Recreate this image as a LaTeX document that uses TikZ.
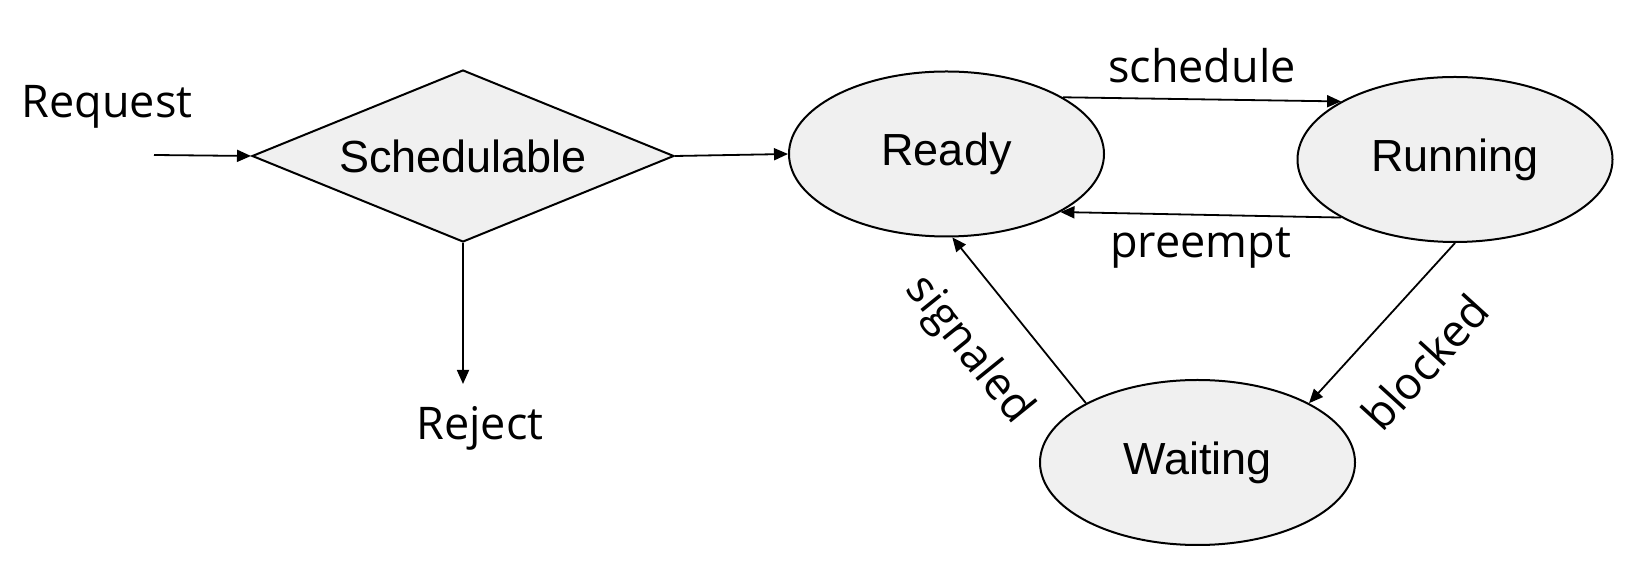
\documentclass[tikz,border=0pt]{standalone}
\usepackage{fontspec}
\setmainfont{Liberation Sans}
\newfontfamily\labelfont{Open Sans}
\usepackage{tikz}
\usetikzlibrary{arrows.meta, shapes}
\definecolor{stategray}{RGB}{240, 240, 240}

\begin{document}
\begin{tikzpicture}[
    x=0.5pt, y=-0.5pt,
    state/.style={ellipse, draw, line width=1pt, fill=stategray, inner sep=0pt,
        minimum width=157.5pt, minimum height=82.5pt, font=\fontsize{22.5}{27}\selectfont},
    decision/.style={diamond, aspect=2.45, draw, line width=1pt, fill=stategray, inner sep=0pt,
        minimum width=211pt, minimum height=86pt, font=\fontsize{22.5}{27}\selectfont},
    lbl/.style={font=\labelfont\fontsize{22.5}{27}\selectfont, inner sep=0pt},
    edge/.style={-{Triangle[length=7pt, width=6pt]}, line width=0.9pt}
]
    \useasboundingbox (0,0) rectangle (1649,565);

    % States
    \node[decision] (sched) at (463,156) {Schedulable};
    \node[state] (ready) at (946.5,154) {Ready};
    \node[state] (running) at (1455,159.5) {Running};
    \node[state] (waiting) at (1197.5,462.5) {Waiting};

    % Admission
    \node[lbl, anchor=base] (request) at (107,118) {Request};
    \node[lbl, anchor=base, outer sep=11.5pt] (reject) at (480,440) {Reject};
    \coordinate (reqin) at (154,155);

    \draw[edge] (reqin) -- (sched.west);
    \draw[edge] (sched.east) -- (ready.west);
    \draw[edge] (sched.south) -- (sched.south |- reject.north);

    % Transitions
    \draw[edge] (ready.26) -- node[lbl, above=8pt] {schedule} (running.153);
    \draw[edge] (running.207) -- node[lbl, below=6pt] {preempt} (ready.-27);
    \draw[edge] (running.270) -- node[lbl, sloped, below=20pt] {blocked} (waiting.28);
    \draw[edge] (waiting.152) -- node[lbl, sloped, pos=0.54, below=17.5pt] {signaled} (ready.274);
\end{tikzpicture}
\end{document}
